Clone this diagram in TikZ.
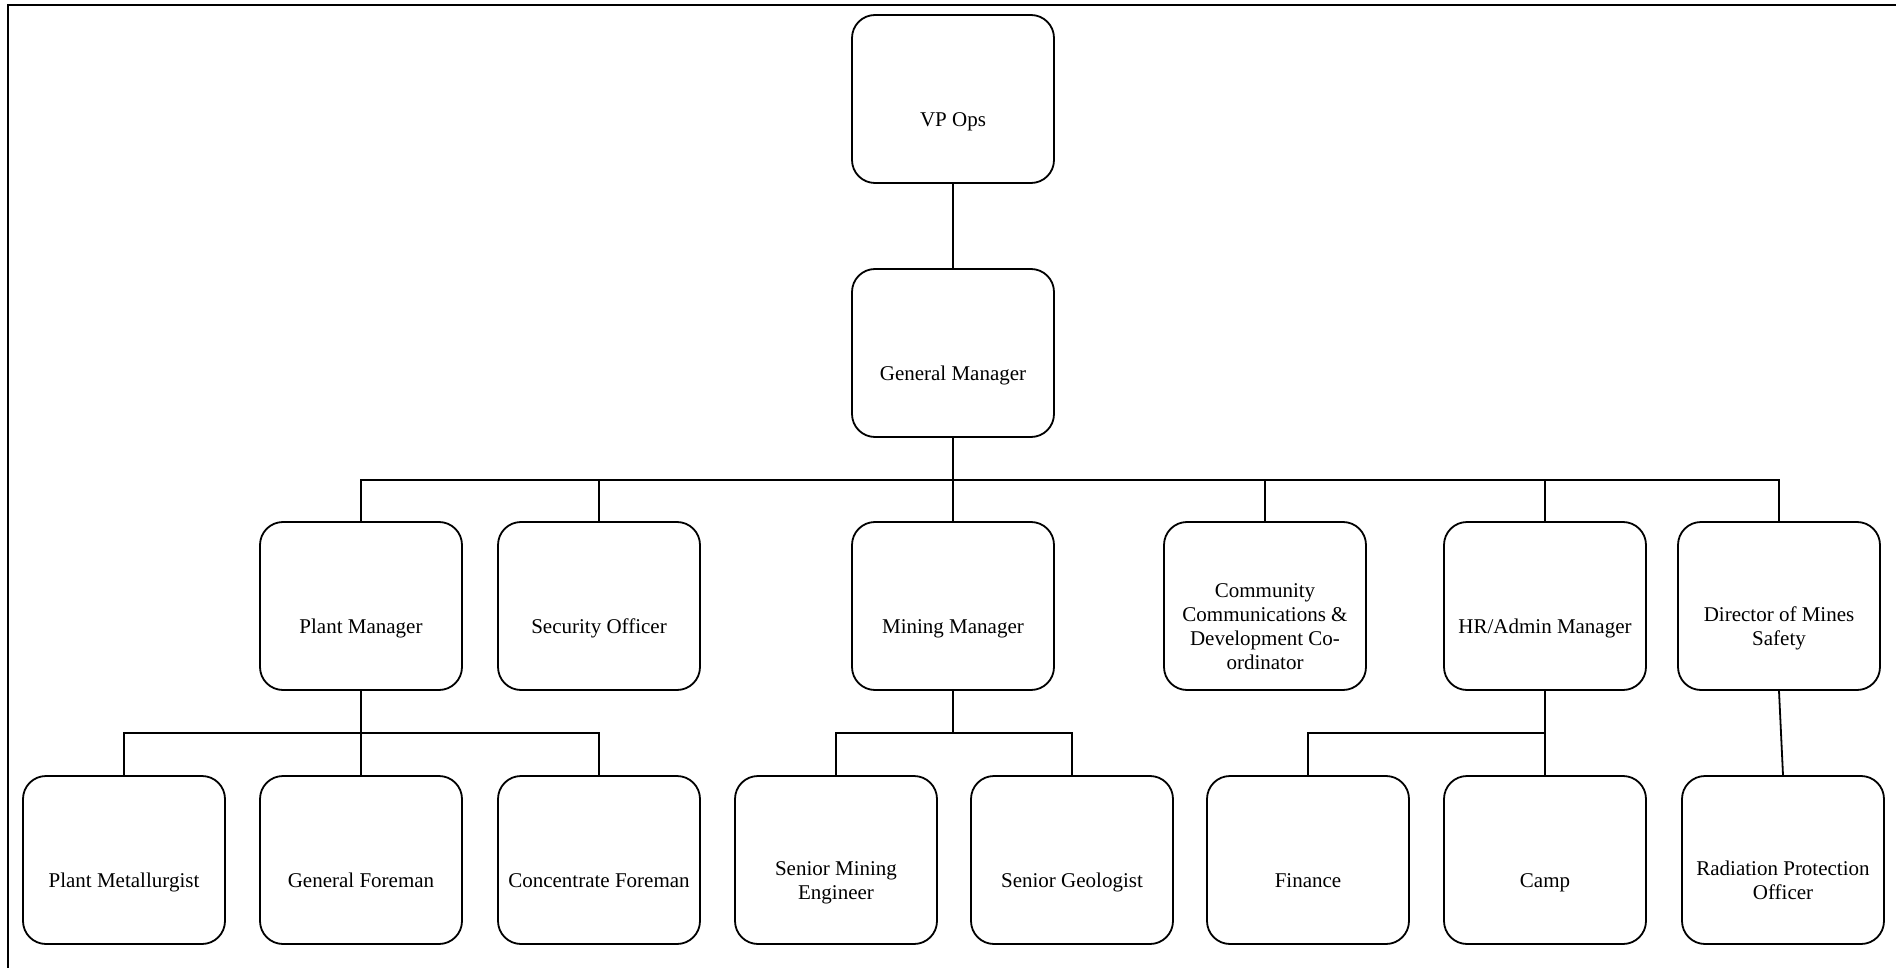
\documentclass[tikz,border=0pt]{standalone}
\usepackage{fontspec}
\setmainfont{Liberation Serif}
\begin{document}
\begin{tikzpicture}[x=1pt,y=-1pt,
  box/.style={draw, line width=1.8pt, rounded corners=23pt,
    minimum width=202pt, minimum height=168pt, inner sep=0pt,
    label={[lbl]center:\strut#1\strut}},
  lbl/.style={align=center, yshift=-23pt, inner sep=0pt,
    font=\fontsize{21}{24}\selectfont},
  conn/.style={line width=1.8pt},
  frame/.style={line width=2pt}
]
\useasboundingbox (0,0) rectangle (1896,968);

% page frame (top and left edges)
\draw[frame] (8,968) -- (8,5) -- (1896,5);

% top levels
\node[box={VP Ops}] (vp) at (953,99) {};
\node[box={General Manager}] (gm) at (953,353) {};

% second level
\node[box={Plant Manager}] (plant) at (361,606) {};
\node[box={Security Officer}] (sec) at (599,606) {};
\node[box={Mining Manager}] (mm) at (953,606) {};
\node[box={Community\\Communications \&\\Development Co-\\ordinator}] (comm) at (1265,606) {};
\node[box={HR/Admin Manager}] (hr) at (1545,606) {};
\node[box={Director of Mines\\Safety}] (dir) at (1779,606) {};

% third level
\node[box={Plant Metallurgist}] (pmet) at (124,860) {};
\node[box={General Foreman}] (gf) at (361,860) {};
\node[box={Concentrate Foreman}] (cf) at (599,860) {};
\node[box={Senior Mining\\Engineer}] (sme) at (836,860) {};
\node[box={Senior Geologist}] (sg) at (1072,860) {};
\node[box={Finance}] (fin) at (1308,860) {};
\node[box={Camp}] (camp) at (1545,860) {};
\node[box={Radiation Protection\\Officer}] (rad) at (1783,860) {};

% bus levels
\coordinate (busA) at (0,480);
\coordinate (busB) at (0,733);

% connectors
\draw[conn] (vp.south) -- (gm.north);
\draw[conn] (gm.south) -- (gm.south |- busA);
\draw[conn] (plant.north) |- (dir.north |- busA) -- (dir.north);
\draw[conn] (sec.north) -- (sec.north |- busA);
\draw[conn] (mm.north) -- (mm.north |- busA);
\draw[conn] (comm.north) -- (comm.north |- busA);
\draw[conn] (hr.north) -- (hr.north |- busA);

\draw[conn] (plant.south) -- (gf.north);
\draw[conn] (pmet.north) |- (cf.north |- busB) -- (cf.north);

\draw[conn] (mm.south) -- (mm.south |- busB);
\draw[conn] (sme.north) |- (sg.north |- busB) -- (sg.north);

\draw[conn] (hr.south) -- (camp.north);
\draw[conn] (fin.north) |- (hr.south |- busB);

\draw[conn] (dir.south) -- (rad.north);
\end{tikzpicture}
\end{document}
